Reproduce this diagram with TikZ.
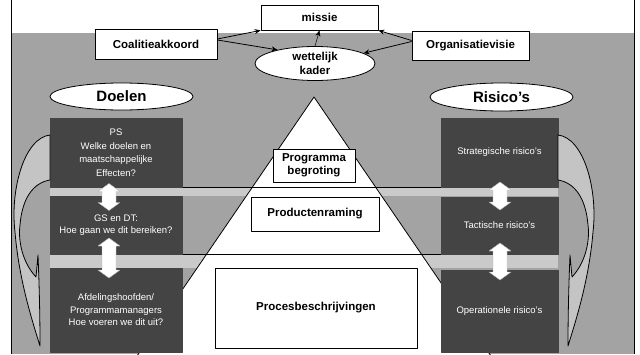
\documentclass[tikz,border=0pt]{standalone}
\usepackage{fontspec}
\setmainfont{Liberation Sans}
\usetikzlibrary{shapes.geometric,arrows.meta}
\definecolor{bgstip}{HTML}{A3A3A3}
\definecolor{bandgray}{HTML}{CACACA}
\definecolor{darkbox}{HTML}{444444}
\definecolor{crescent}{HTML}{C4C4C4}
\newcommand\vdarrow[3]{%
  \filldraw[dblarrow] ({#1-7},{#2-#3/2+8}) -- ({#1-11},{#2-#3/2+8}) -- ({#1},{#2-#3/2}) -- ({#1+11},{#2-#3/2+8}) -- ({#1+7},{#2-#3/2+8})
   -- ({#1+7},{#2+#3/2-8}) -- ({#1+11},{#2+#3/2-8}) -- ({#1},{#2+#3/2}) -- ({#1-11},{#2+#3/2-8}) -- ({#1-7},{#2+#3/2-8}) -- cycle;}
\newcommand\crvarrowshape{%
  (50,135) .. controls (24,138) and (10,190) .. (15,232) .. controls (19,280) and (32,320) .. (40,346)
  .. controls (40,310) and (39,280) .. (38,255) -- (36,277) .. controls (22,262) and (18,240) .. (20,225)
  .. controls (22,200) and (32,183) .. (50,180) -- cycle}
\tikzset{
  lbl/.style={draw=black, line width=0.8pt, fill=white, inner sep=0pt, align=center,
     font=\fontsize{11.5}{13.5}\selectfont\bfseries},
  ell/.style={ellipse, draw=black, line width=0.8pt, fill=white, inner sep=0pt, align=center,
     font=\fontsize{11.5}{13.5}\selectfont\bfseries},
  bigell/.style={ell, font=\fontsize{15}{18}\selectfont\bfseries},
  darkbx/.style={fill=darkbox, draw=darkbox, inner sep=0pt, align=center, text=white,
     font=\fontsize{9.5}{12.5}\selectfont},
  dblarrow/.style={fill=white, draw=gray!60, line width=0.4pt},
  conn/.style={line width=0.8pt, -{Stealth[length=6pt,width=5pt]}},
  crv/.style={fill=crescent, draw=black, line width=0.8pt},
}
\begin{document}
\begin{tikzpicture}[x=1pt, y=-1pt, line join=round]
\useasboundingbox (0,0) rectangle (640,354);
\fill[white] (0,0) rectangle (640,354);
\fill[bgstip] (12,33) rectangle (634,354);
\fill[bandgray] (50,187) rectangle (558,196);
\fill[bandgray] (50,254) rectangle (558,268);
% pyramid
\fill[white] (314,97) -- (137,356) -- (491,356) -- cycle;
\draw[line width=0.8pt] (137,356) -- (314,97) -- (491,356);
\draw[line width=0.8pt] (182,187) -- (441,187);
\draw[line width=0.8pt] (182,254) -- (441,254);
% boxes inside pyramid
\node[lbl, minimum width=82pt, minimum height=33pt] (prog) at (314,165.5) {Programma\\begroting};
\node[lbl, minimum width=128pt, minimum height=34pt] (prod) at (315,214) {Productenraming};
\node[lbl, minimum width=202pt, minimum height=80pt] (proc) at (316,308) {Procesbeschrijvingen};
% dark boxes left
\node[darkbx, minimum width=132pt, minimum height=69pt, font=\fontsize{9.5}{13.5}\selectfont] (d1) at (116,152.5) {PS\\Welke doelen en\\maatschappelijke\\Effecten?};
\node[darkbx, minimum width=132pt, minimum height=58pt] (d2) at (116,225) {GS en DT:\\Hoe gaan we dit bereiken?};
\node[darkbx, minimum width=132pt, minimum height=84pt] (d3) at (116,310) {Afdelingshoofden/\\Programmamanagers\\Hoe voeren we dit uit?};
% dark boxes right
\node[darkbx, minimum width=117pt, minimum height=69pt] (r1) at (499.5,152.5) {Strategische risico’s};
\node[darkbx, minimum width=117pt, minimum height=57pt] (r2) at (499.5,225.5) {Tactische risico’s};
\node[darkbx, minimum width=117pt, minimum height=82pt] (r3) at (499.5,311) {Operationele risico’s};
% double arrows
\vdarrow{109}{197}{27}
\vdarrow{109}{258}{40}
\vdarrow{500}{196}{28}
\vdarrow{500}{261.5}{37}
% curved arrows
\filldraw[crv] \crvarrowshape;
\begin{scope}[shift={(608,0)}, xscale=-1]
\filldraw[crv] \crvarrowshape;
\end{scope}
% top
\node[lbl, minimum width=117pt, minimum height=25pt] (missie) at (319.5,17.5) {missie};
\node[lbl, minimum width=122pt, minimum height=30pt] (coal) at (156,44) {Coalitieakkoord};
\node[lbl, minimum width=117pt, minimum height=29pt] (org) at (470.5,45.5) {Organisatievisie};
\node[ell, minimum width=120pt, minimum height=34pt] (wk) at (315,63.5) {wettelijk\\kader};
\node[bigell, minimum width=143pt, minimum height=27pt] (doel) at (121.5,96.5) {Doelen};
\node[bigell, minimum width=143pt, minimum height=28pt] (ris) at (501.5,97) {Risico’s};
\draw[conn] ([yshift=5pt]coal.east) -- (missie.south west);
\draw[conn] ([yshift=4pt]coal.east) -- (wk.160);
\draw[conn] ([yshift=5pt]org.west) -- (missie.south east);
\draw[conn] ([yshift=4pt]org.west) -- (wk.12);
\draw[conn, line width=0.5pt] (wk.north) -- (missie.south);
% borders
\draw[line width=1.8pt] (11.5,0) -- (11.5,354);
\draw[line width=1.8pt] (634.5,0) -- (634.5,354);
\end{tikzpicture}
\end{document}
